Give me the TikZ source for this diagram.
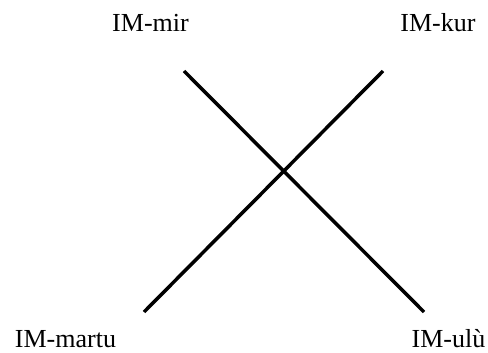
\documentclass[tikz,border=0pt]{standalone}
\usepackage{fontspec}
\setmainfont{Liberation Serif}
\begin{document}
\begin{tikzpicture}[x=0.5pt,y=-0.5pt,
  lbl/.style={anchor=base,inner sep=0pt,font=\fontsize{13}{15}\selectfont},
  bar/.style={line width=1.75pt,black}]
\useasboundingbox (0,0) rectangle (488,353);
\node[lbl] (mir) at (150.5,32) {IM-mir};
\node[lbl] (kur) at (438,32) {IM-kur};
\node[lbl] (martu) at (65.5,348) {IM-martu};
\node[lbl] (ulu) at (448.5,348) {IM-ulù};
\coordinate (a1) at (184,71);
\coordinate (a2) at (424,312);
\coordinate (b1) at (383,71);
\coordinate (b2) at (144,312);
\draw[bar] (a1) -- (a2);
\draw[bar] (b1) -- (b2);
\end{tikzpicture}
\end{document}
